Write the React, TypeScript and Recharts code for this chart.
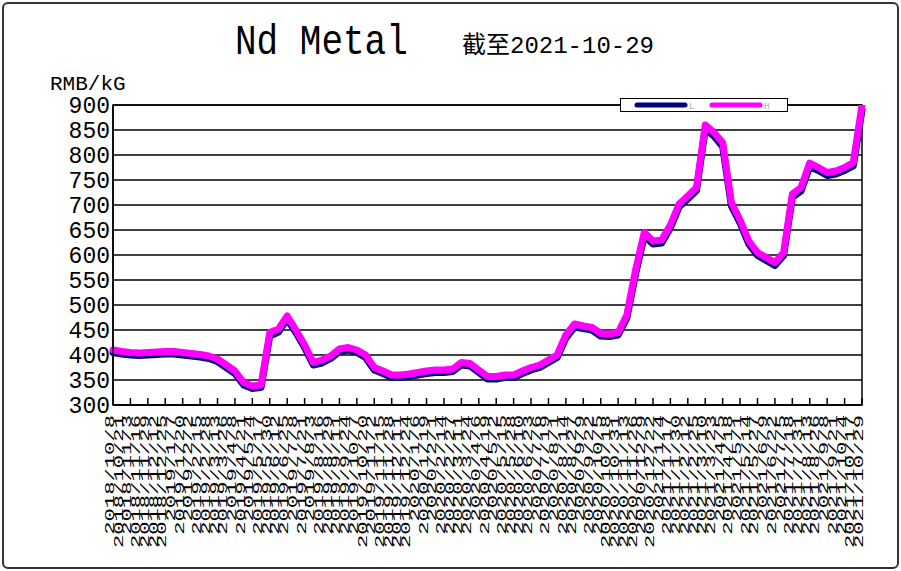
import React from 'react';
import { LineChart, Line, XAxis, YAxis, CartesianGrid, ReferenceArea } from 'recharts';

// ─── Data ─────────────────────────────────

const dates = [
  '2018/10/8', '2018/10/21', '2018/11/3', '2018/11/16', '2018/11/29', '2018/12/12', '2018/12/25',
  '2019/1/7', '2019/1/20', '2019/2/2', '2019/2/15', '2019/2/28', '2019/3/13', '2019/3/26',
  '2019/4/8', '2019/4/21', '2019/5/4', '2019/5/17', '2019/5/30', '2019/6/12', '2019/6/25',
  '2019/7/8', '2019/7/21', '2019/8/3', '2019/8/16', '2019/8/29', '2019/9/11', '2019/9/24',
  '2019/10/7', '2019/10/20', '2019/11/2', '2019/11/15', '2019/11/28', '2019/12/11', '2019/12/24',
  '2020/1/6', '2020/1/19', '2020/2/1', '2020/2/14', '2020/2/27', '2020/3/11', '2020/3/24',
  '2020/4/6', '2020/4/19', '2020/5/2', '2020/5/15', '2020/5/28', '2020/6/10', '2020/6/23',
  '2020/7/6', '2020/7/19', '2020/8/1', '2020/8/14', '2020/8/27', '2020/9/9', '2020/9/22',
  '2020/10/5', '2020/10/18', '2020/10/31', '2020/11/13', '2020/11/26', '2020/12/9', '2020/12/22',
  '2021/1/4', '2021/1/17', '2021/1/30', '2021/2/12', '2021/2/25', '2021/3/10', '2021/3/23',
  '2021/4/5', '2021/4/18', '2021/5/1', '2021/5/14', '2021/5/27', '2021/6/9', '2021/6/22',
  '2021/7/5', '2021/7/18', '2021/7/31', '2021/8/13', '2021/8/26', '2021/9/8', '2021/9/21',
  '2021/10/4', '2021/10/17', '2021/10/29',
];

// H = high price, L = low price (RMB/kG)
const highPrices = [
  410, 407, 405, 404, 405, 406, 407, 407, 405, 403,
  401, 398, 392, 380, 368, 345, 338, 340, 445, 452,
  478, 450, 420, 385, 390, 398, 412, 415, 410, 400,
  375, 368, 360, 360, 362, 365, 368, 370, 370, 372,
  385, 383, 370, 357, 357, 360, 360, 368, 375, 380,
  390, 400, 440, 462, 458, 455, 443, 442, 445, 480,
  570, 645, 628, 630, 660, 702, 718, 735, 860, 845,
  825, 705, 670, 628, 605, 595, 585, 605, 722, 735,
  784, 775, 765, 768, 775, 785, 900,
];

const lowPrices = [
  405, 402, 400, 399, 400, 401, 402, 402, 400, 398,
  396, 393, 387, 375, 363, 340, 333, 335, 438, 446,
  472, 445, 415, 380, 384, 393, 407, 410, 405, 395,
  370, 363, 355, 355, 357, 360, 363, 365, 365, 367,
  380, 378, 365, 352, 352, 355, 355, 363, 370, 375,
  385, 395, 434, 456, 453, 450, 438, 437, 440, 474,
  562, 638, 622, 624, 654, 696, 712, 729, 852, 838,
  817, 698, 664, 622, 599, 589, 579, 599, 715, 728,
  777, 769, 759, 762, 769, 778, 890,
];

const yTicks = [300, 350, 400, 450, 500, 550, 600, 650, 700, 750, 800, 850, 900];

const legendItems = [
  { key: 'low', label: 'L', color: '#000080' },
  { key: 'high', label: 'H', color: '#ff00ff' },
];

const chartData = dates.map((date, i) => ({
  date,
  low: lowPrices[i],
  high: highPrices[i],
}));

// ─── Layout ───────────────────────────────

const W = 901;
const H = 571;
const PLOT_BOTTOM = 405;
const MONO = '"Liberation Mono", "DejaVu Sans Mono", monospace';

// ─── Ticks ────────────────────────────────

function DateTick(props: any) {
  const { x, payload, index } = props;
  return (
    <g>
      {index > 0 && index % 2 === 0 && (
        <line x1={x} x2={x} y1={PLOT_BOTTOM - 7} y2={PLOT_BOTTOM} stroke="#000" strokeWidth={1.5} />
      )}
      <text
        transform={`translate(${x + 1},${PLOT_BOTTOM + 10}) rotate(-90) scale(1.85,1)`}
        textAnchor="end"
        fontFamily={MONO}
        fontSize={12}
        fill="#000"
      >
        {payload.value}
      </text>
    </g>
  );
}

function PriceTick(props: any) {
  const { y, payload } = props;
  return (
    <text x={110} y={y + 8} textAnchor="end" fontFamily={MONO} fontSize={23} fill="#000">
      {payload.value}
    </text>
  );
}

// ─── Component ────────────────────────────

export default function App() {
  return (
    <div style={{ position: 'absolute', left: 0, top: 0, width: W, height: H, background: '#fff' }}>
      {/* outer frame */}
      <div
        style={{
          position: 'absolute', left: 2, top: 2, width: W - 8, height: H - 8,
          border: '2px solid #333', borderRadius: 6,
        }}
      />

      {/* title */}
      <div
        style={{
          position: 'absolute', left: 235, top: 18, fontFamily: MONO, fontSize: 36,
          transform: 'scaleY(1.2)', transformOrigin: 'left top', whiteSpace: 'pre', color: '#000',
        }}
      >
        Nd Metal
      </div>
      <div
        style={{
          position: 'absolute', left: 462, top: 32, fontFamily: `"Liberation Mono", "Noto Sans CJK SC"`,
          fontSize: 24, lineHeight: '30px', whiteSpace: 'pre', color: '#000',
        }}
      >
        截至2021-10-29
      </div>

      <LineChart
        width={W}
        height={H}
        data={chartData}
        margin={{ top: 105, right: 39, bottom: 16, left: 53 }}
      >
        <CartesianGrid vertical={false} stroke="#000" strokeWidth={1.5} />
        <ReferenceArea y1={300} y2={900} fill="none" stroke="#000" strokeWidth={1.5} ifOverflow="visible" />
        <XAxis
          dataKey="date"
          interval={0}
          tickLine={false}
          height={150}
          axisLine={{ stroke: '#000', strokeWidth: 1.5 }}
          tick={(p: any) => <DateTick {...p} />}
        />
        <YAxis
          domain={[300, 900]}
          ticks={yTicks}
          width={60}
          tickLine={false}
          axisLine={{ stroke: '#000', strokeWidth: 1.5 }}
          tick={(p: any) => <PriceTick {...p} />}
          allowDataOverflow
        />
        <Line
          type="linear"
          dataKey="low"
          stroke="#000080"
          strokeWidth={7}
          strokeLinejoin="round"
          strokeLinecap="round"
          dot={false}
          isAnimationActive={false}
        />
        <Line
          type="linear"
          dataKey="high"
          stroke="#ff00ff"
          strokeWidth={7}
          strokeLinejoin="round"
          strokeLinecap="round"
          dot={false}
          isAnimationActive={false}
        />
      </LineChart>

      {/* axis unit */}
      <div
        style={{
          position: 'absolute', left: 50, top: 73, fontFamily: MONO, fontSize: 21,
          lineHeight: '24px', color: '#000', whiteSpace: 'pre',
        }}
      >
        RMB/kG
      </div>

      {/* legend */}
      <div
        style={{
          position: 'absolute', left: 620, top: 98, width: 166, height: 12,
          border: '1.5px solid #000', background: '#fff',
        }}
      >
        <svg width={166} height={12} style={{ display: 'block' }}>
          {legendItems.map((item, i) => (
            <g key={item.key}>
              <line
                x1={16 + i * 75} x2={64 + i * 75} y1={6} y2={6}
                stroke={item.color} strokeWidth={5} strokeLinecap="round"
              />
              <text x={68 + i * 75} y={10} fontSize={9} fontFamily={MONO} fill="#9ad">
                {item.label}
              </text>
            </g>
          ))}
        </svg>
      </div>
    </div>
  );
}
